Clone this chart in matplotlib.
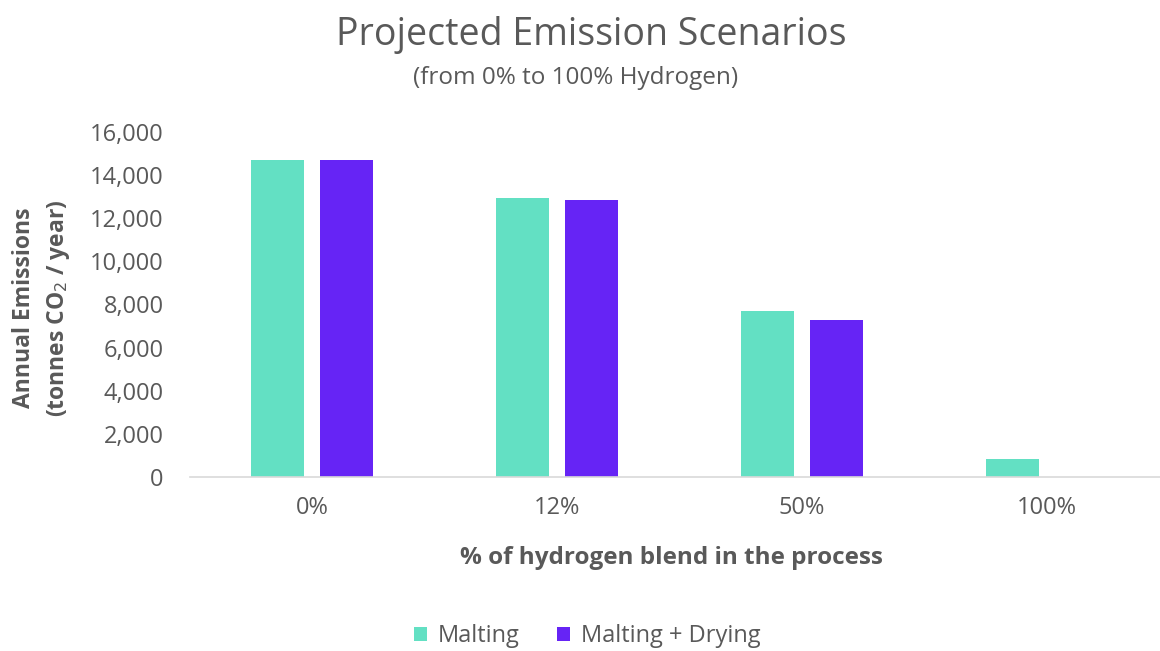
import matplotlib
matplotlib.use("Agg")
import matplotlib.pyplot as plt
import numpy as np
from matplotlib.ticker import FuncFormatter

categories = ["0%", "12%", "50%", "100%"]
malting = [14700, 12950, 7700, 850]
malting_drying = [14700, 12850, 7270, 0]
series_names = ["Malting", "Malting + Drying"]
yticks = [0, 2000, 4000, 6000, 8000, 10000, 12000, 14000, 16000]

plt.rcParams['font.family'] = ['Open Sans', 'DejaVu Sans']
gray = "#595959"

fig = plt.figure(figsize=(11.6, 6.51), dpi=100)
ax = fig.add_axes([190/1160, 0.2673, 979/1160, 0.53])

x = np.arange(len(categories))
w = 0.216
off = 0.141
ax.bar(x - off, malting, width=w, color="#63E0C3", label=series_names[0])
ax.bar(x + off, malting_drying, width=w, color="#6624F5", label=series_names[1])

ax.set_xlim(-0.5, 3.5)
ax.set_ylim(0, 16000)
ax.set_yticks(yticks)
ax.yaxis.set_major_formatter(FuncFormatter(lambda v, p: f"{int(v):,}"))
ax.set_xticks(x)
ax.set_xticklabels(categories)
for s in ["top", "right", "left"]:
    ax.spines[s].set_visible(False)
ax.spines["bottom"].set_color("#d9d9d9")
ax.spines["bottom"].set_linewidth(1.2)
ax.tick_params(axis="both", length=0, labelsize=17, labelcolor=gray)
ax.tick_params(axis="y", pad=19)
ax.tick_params(axis="x", pad=14)

fig.text(671/1160, 1 - 558/651, "% of hydrogen blend in the process", ha="center", va="center",
         fontsize=17.5, fontweight="bold", color=gray)
fig.text(42/1160, 1 - 308/651, "Annual Emissions\n(tonnes CO$_2$ / year)", rotation=90, ha="center", va="center",
         fontsize=16.5, fontweight="bold", color=gray, linespacing=1.45)

fig.text(591/1160, 1 - 35/651, "Projected Emission Scenarios", ha="center", va="center", fontsize=27, color=gray)
fig.text(576/1160, 1 - 78/651, "(from 0% to 100% Hydrogen)", ha="center", va="center", fontsize=17.5, color=gray)

leg = fig.legend(loc="center", bbox_to_anchor=(587/1160, 1 - 636/651), ncol=2, frameon=False,
                 fontsize=17, handlelength=0.55, handleheight=0.55, columnspacing=1.6, handletextpad=0.45)
for t in leg.get_texts():
    t.set_color(gray)

fig.savefig("out.png", dpi=100)
